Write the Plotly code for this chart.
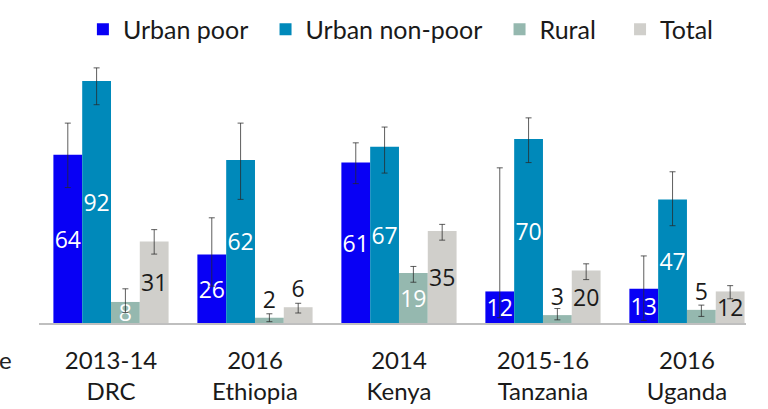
import plotly.graph_objects as go

years = ["2013-14", "2016", "2014", "2015-16", "2016"]
countries = ["DRC", "Ethiopia", "Kenya", "Tanzania", "Uganda"]
categories = [f"{y}<br>{c}" for y, c in zip(years, countries)]

series_names = ["Urban poor", "Urban non-poor", "Rural", "Total"]
urban_poor = [64, 26, 61, 12, 13]
urban_nonpoor = [92, 62, 67, 70, 47]
rural = [8, 2, 19, 3, 5]
total = [31, 6, 35, 20, 12]

# error bars (plus / minus)
urban_poor_plus = [12, 14, 7.5, 47, 12.5]
urban_poor_minus = [12.5, 12, 8, 10, 12]
urban_nonpoor_plus = [5, 14, 7.5, 8, 10.5]
urban_nonpoor_minus = [9, 15, 10, 9, 10]
rural_plus = [5, 1.5, 2.5, 2.5, 1.8]
rural_minus = [4, 1.5, 3.5, 1.8, 2.5]
total_plus = [4.5, 1.5, 2.5, 2.5, 2.2]
total_minus = [4.8, 2.2, 3.5, 3.5, 2.8]

colors = ["#0800F5", "#0089BA", "#95B8AF", "#D0CFCB"]

values = [urban_poor, urban_nonpoor, rural, total]
plus = [urban_poor_plus, urban_nonpoor_plus, rural_plus, total_plus]
minus = [urban_poor_minus, urban_nonpoor_minus, rural_minus, total_minus]
label_colors = ["white", "white", "white", "#1a1a1a"]
legend_pad = ["\u00a0\u00a0", "\u00a0\u00a0", "\u00a0\u00a0\u00a0", ""]
small_cut = 7  # values below this get labels above the bar

fig = go.Figure()
for name, pad, vals, p, m, c, lc in zip(series_names, legend_pad, values, plus, minus, colors, label_colors):
    pos = ["outside" if (v < small_cut) else "inside" for v in vals]
    fig.add_trace(go.Bar(
        name=name + pad, x=categories, y=vals,
        marker=dict(color=c, line=dict(width=0)),
        text=[str(v) for v in vals], textposition=pos, textangle=0,
        insidetextanchor="middle", constraintext="none", cliponaxis=False,
        insidetextfont=dict(family="Open Sans", size=23, color=lc),
        outsidetextfont=dict(family="Open Sans", size=23, color="#1a1a1a"),
        error_y=dict(type="data", symmetric=False, array=p, arrayminus=m,
                     color="rgba(40,40,40,0.75)", thickness=1, width=3),
    ))

fig.add_annotation(text="e", xref="paper", yref="paper", x=-0.0467, y=-0.132,
                   xanchor="center", yanchor="middle",
                   showarrow=False, font=dict(family="Lato", size=24, color="#222"))

fig.update_layout(
    width=768, height=409,
    margin=dict(l=39, r=22, t=50, b=86, autoexpand=False),
    paper_bgcolor="white", plot_bgcolor="white",
    barmode="group", bargap=0.2, bargroupgap=0,
    showlegend=True,
    legend=dict(orientation="h", xref="container", yref="container",
                x=0.522, xanchor="center", y=1 - 29.5 / 409, yanchor="middle",
                font=dict(family="Lato", size=25, color="#1a1a1a"),
                itemclick=False, tracegroupgap=0),
    font=dict(family="Lato", size=24, color="#1a1a1a"),
)
fig.update_xaxes(range=[-0.5, 4.41], showline=True, linecolor="#BFBFBF", linewidth=2,
                 ticks="", showgrid=False, automargin=False, ticklabelstandoff=15,
                 tickfont=dict(family="Lato", size=24, color="#1a1a1a"))
fig.update_yaxes(range=[0, 103.8], visible=False, showgrid=False, zeroline=False)

fig.write_html("out.html", config={"displayModeBar": False},
               post_script="document.body.style.margin='0';")
